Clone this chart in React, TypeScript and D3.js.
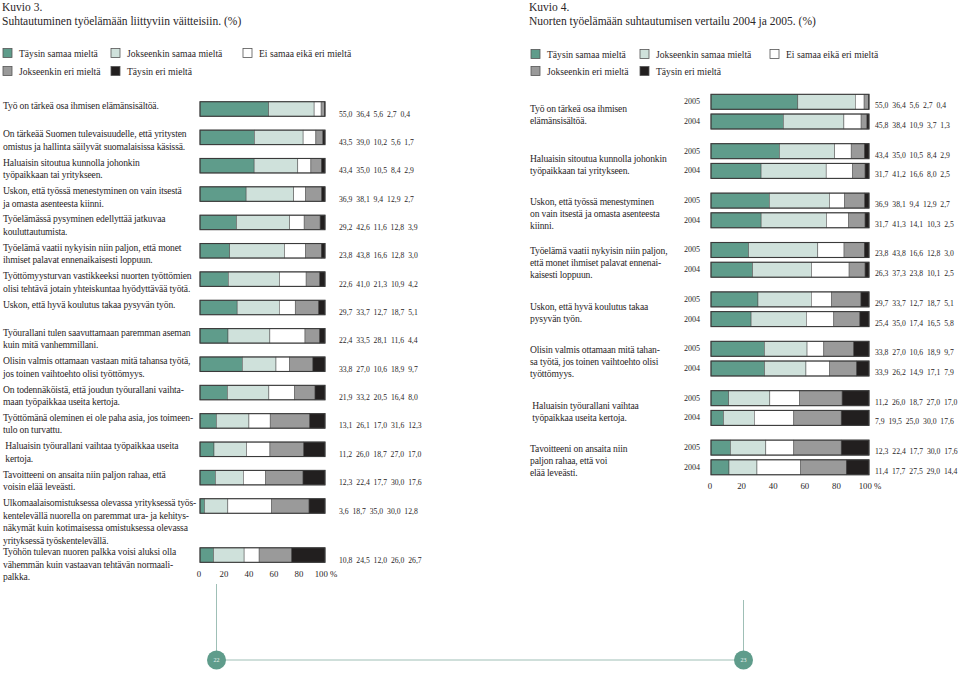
import React from "react";
import * as d3 from "d3";

// ---------- DATA ----------
const categories = [
  "Täysin samaa mieltä",
  "Jokseenkin samaa mieltä",
  "Ei samaa eikä eri mieltä",
  "Jokseenkin eri mieltä",
  "Täysin eri mieltä",
];

const leftStatements: string[][] = [
  ["Työ on tärkeä osa ihmisen elämänsisältöä."],
  ["On tärkeää Suomen tulevaisuudelle, että yritysten", "omistus ja hallinta säilyvät suomalaisissa käsissä."],
  ["Haluaisin sitoutua kunnolla johonkin", "työpaikkaan tai yritykseen."],
  ["Uskon, että työssä menestyminen on vain itsestä", "ja omasta asenteesta kiinni."],
  ["Työelämässä pysyminen edellyttää jatkuvaa", "kouluttautumista."],
  ["Työelämä vaatii nykyisin niin paljon, että monet", "ihmiset palavat ennenaikaisesti loppuun."],
  ["Työttömyysturvan vastikkeeksi nuorten työttömien", "olisi tehtävä jotain yhteiskuntaa hyödyttävää työtä."],
  ["Uskon, että hyvä koulutus takaa pysyvän työn."],
  ["Työurallani tulen saavuttamaan paremman aseman", "kuin mitä vanhemmillani."],
  ["Olisin valmis ottamaan vastaan mitä tahansa työtä,", "jos toinen vaihtoehto olisi työttömyys."],
  ["On todennäköistä, että joudun työurallani vaihta-", "maan työpaikkaa useita kertoja."],
  ["Työttömänä oleminen ei ole paha asia, jos toimeen-", "tulo on turvattu."],
  [" Haluaisin työurallani vaihtaa työpaikkaa useita", " kertoja."],
  ["Tavoitteeni on ansaita niin paljon rahaa, että", "voisin elää leveästi."],
  ["Ulkomaalaisomistuksessa olevassa yrityksessä työs-", "kentelevällä nuorella on paremmat ura- ja kehitys-", "näkymät kuin kotimaisessa omistuksessa olevassa", "yrityksessä työskentelevällä."],
  ["Työhön tulevan nuoren palkka voisi aluksi olla", "vähemmän kuin vastaavan tehtävän normaali-", "palkka."],
];

const leftValues: number[][] = [
  [55.0, 36.4, 5.6, 2.7, 0.4],
  [43.5, 39.0, 10.2, 5.6, 1.7],
  [43.4, 35.0, 10.5, 8.4, 2.9],
  [36.9, 38.1, 9.4, 12.9, 2.7],
  [29.2, 42.6, 11.6, 12.8, 3.9],
  [23.8, 43.8, 16.6, 12.8, 3.0],
  [22.6, 41.0, 21.3, 10.9, 4.2],
  [29.7, 33.7, 12.7, 18.7, 5.1],
  [22.4, 33.5, 28.1, 11.6, 4.4],
  [33.8, 27.0, 10.6, 18.9, 9.7],
  [21.9, 33.2, 20.5, 16.4, 8.0],
  [13.1, 26.1, 17.0, 31.6, 12.3],
  [11.2, 26.0, 18.7, 27.0, 17.0],
  [12.3, 22.4, 17.7, 30.0, 17.6],
  [3.6, 18.7, 35.0, 30.0, 12.8],
  [10.8, 24.5, 12.0, 26.0, 26.7],
];

const rightStatements: string[][] = [
  ["Työ on tärkeä osa ihmisen", "elämänsisältöä."],
  ["Haluaisin sitoutua kunnolla johonkin", "työpaikkaan tai yritykseen."],
  ["Uskon, että työssä menestyminen", "on vain itsestä ja omasta asenteesta", "kiinni."],
  ["Työelämä vaatii nykyisin niin paljon,", "että monet ihmiset palavat ennenai-", "kaisesti loppuun."],
  ["Uskon, että hyvä koulutus takaa", "pysyvän työn."],
  ["Olisin valmis ottamaan mitä tahan-", "sa työtä, jos toinen vaihtoehto olisi", "työttömyys."],
  [" Haluaisin työurallani vaihtaa", " työpaikkaa useita kertoja."],
  ["Tavoitteeni on ansaita niin", "paljon rahaa, että voi", "elää leveästi."],
];

const years = ["2005", "2004"];

const rightValues2005: number[][] = [
  [55.0, 36.4, 5.6, 2.7, 0.4],
  [43.4, 35.0, 10.5, 8.4, 2.9],
  [36.9, 38.1, 9.4, 12.9, 2.7],
  [23.8, 43.8, 16.6, 12.8, 3.0],
  [29.7, 33.7, 12.7, 18.7, 5.1],
  [33.8, 27.0, 10.6, 18.9, 9.7],
  [11.2, 26.0, 18.7, 27.0, 17.0],
  [12.3, 22.4, 17.7, 30.0, 17.6],
];

const rightValues2004: number[][] = [
  [45.8, 38.4, 10.9, 3.7, 1.3],
  [31.7, 41.2, 16.6, 8.0, 2.5],
  [31.7, 41.3, 14.1, 10.3, 2.5],
  [26.3, 37.3, 23.8, 10.1, 2.5],
  [25.4, 35.0, 17.4, 16.5, 5.8],
  [33.9, 26.2, 14.9, 17.1, 7.9],
  [7.9, 19.5, 25.0, 30.0, 17.6],
  [11.4, 17.7, 27.5, 29.0, 14.4],
];

const tickValues = [0, 20, 40, 60, 80, 100];
const pageNumbers = ["22", "23"];

// ---------- STYLE ----------
const colors = ["#5f9c8b", "#cfe1db", "#ffffff", "#9a9a9a", "#221f1f"];
const FONT = "Liberation Serif, Times New Roman, serif";
const TEXT = "#2a2627";
const LABEL_SIZE = 9.6;
const LABEL_LS = -0.15;
const VALUE_SIZE = 7.7;
const fmt = (v: number) => v.toFixed(1).replace(".", ",");

function segments(vals: number[]) {
  const total = d3.sum(vals);
  let acc = 0;
  return vals.map((v, i) => {
    const s = { start: (acc / total) * 100, end: ((acc + v) / total) * 100, i };
    acc += v;
    return s;
  });
}

function Bar({ x, y, h, vals }: { x: d3.ScaleLinear<number, number>; y: number; h: number; vals: number[] }) {
  return (
    <g>
      {segments(vals).map((s) => (
        <rect
          key={s.i}
          x={x(s.start)}
          y={y}
          width={Math.max(0, x(s.end) - x(s.start))}
          height={h}
          fill={colors[s.i]}
          stroke="#4a4a4a"
          strokeWidth={0.5}
        />
      ))}
      <rect x={x(0)} y={y} width={x(100) - x(0)} height={h} fill="none" stroke="#3a3a3a" strokeWidth={1.1} />
    </g>
  );
}

function Legend({ x0, xs, y0, dy }: { x0: number; xs: number[]; y0: number; dy: number }) {
  const pos = [
    [0, 0],
    [1, 0],
    [2, 0],
    [0, 1],
    [1, 1],
  ];
  return (
    <g>
      {categories.map((c, i) => {
        const sx = x0 + xs[pos[i][0]];
        const sy = y0 + pos[i][1] * dy;
        return (
          <g key={c}>
            <rect x={sx} y={sy - 4.5} width={9} height={9} fill={colors[i]} stroke="#555" strokeWidth={0.8} />
            <text x={sx + 16} y={sy} dominantBaseline="central" fontSize={9.6} fill={TEXT}>
              {c}
            </text>
          </g>
        );
      })}
    </g>
  );
}

function Axis({ x, y }: { x: d3.ScaleLinear<number, number>; y: number }) {
  return (
    <g>
      {tickValues.map((t) => (
        <text
          key={t}
          x={t === 100 ? x(t) + 1 : x(t) - 1}
          y={y}
          textAnchor="middle"
          dominantBaseline="central"
          fontSize={8.8}
          fill={TEXT}
        >
          {t === 100 ? "100 %" : String(t)}
        </text>
      ))}
    </g>
  );
}

export default function App() {
  // ----- left chart -----
  const xL = d3.scaleLinear().domain([0, 100]).range([200, 325]);
  const weights = leftStatements.map((l) => 1 + Math.max(0, l.length - 2) * 0.365);
  const cum = weights.map((_, i) => d3.sum(weights.slice(0, i)));
  const yL = d3.scaleLinear().domain([0, 14]).range([109, 506]);
  const hL = 14.5;

  // ----- right chart -----
  const xR = d3.scaleLinear().domain([0, 100]).range([711, 869]);
  const groups = d3.scaleBand<number>().domain(d3.range(rightStatements.length)).range([94.3, 474.8]).paddingInner(0.2976);
  const inner = d3.scaleBand<string>().domain(years).range([0, groups.bandwidth()]).paddingInner(0.24);
  const hR = inner.bandwidth();
  const rightVals = [rightValues2005, rightValues2004];

  return (
    <svg
      width={960}
      height={674}
      style={{ position: "absolute", left: 0, top: 0, display: "block", background: "#fff", fontFamily: FONT }}
    >
      {/* Titles */}
      <text x={2} y={7} dominantBaseline="central" fontSize={11.5} fill={TEXT}>Kuvio 3.</text>
      <text x={2} y={21} dominantBaseline="central" fontSize={11.5} fill={TEXT}>Suhtautuminen työelämään liittyviin väitteisiin. (%)</text>
      <text x={529} y={7} dominantBaseline="central" fontSize={11.5} fill={TEXT}>Kuvio 4.</text>
      <text x={529} y={21} dominantBaseline="central" fontSize={11.5} fill={TEXT}>Nuorten työelämään suhtautumisen vertailu 2004 ja 2005. (%)</text>

      <Legend x0={3} xs={[0, 108, 240]} y0={53} dy={18} />
      <Legend x0={531} xs={[0, 109, 239]} y0={54} dy={17} />

      {/* Left chart */}
      {leftStatements.map((lines, i) => {
        const cy = yL(cum[i]);
        return (
          <g key={"L" + i}>
            {lines.map((ln, j) => (
              <text
                key={j}
                x={3}
                y={cy - 3.5 + j * 12.5}
                dominantBaseline="central"
                fontSize={LABEL_SIZE}
                letterSpacing={LABEL_LS}
                fill={TEXT}
                style={{ whiteSpace: "pre" }}
              >
                {ln}
              </text>
            ))}
            <Bar x={xL} y={cy - hL / 2} h={hL} vals={leftValues[i]} />
            <text x={339} y={cy + 5} dominantBaseline="central" fontSize={VALUE_SIZE} fill={TEXT} style={{ whiteSpace: "pre" }}>
              {leftValues[i].map(fmt).join("  ")}
            </text>
          </g>
        );
      })}
      <Axis x={xL} y={574} />

      {/* Right chart */}
      {rightStatements.map((lines, i) => {
        const g0 = groups(i)!;
        const center = g0 + groups.bandwidth() / 2 + 3;
        const top = center - ((lines.length - 1) * 12) / 2;
        return (
          <g key={"R" + i}>
            {lines.map((ln, j) => (
              <text
                key={j}
                x={530}
                y={top + j * 12}
                dominantBaseline="central"
                fontSize={LABEL_SIZE}
                letterSpacing={LABEL_LS}
                fill={TEXT}
                style={{ whiteSpace: "pre" }}
              >
                {ln}
              </text>
            ))}
            {years.map((yr, k) => {
              const by = g0 + inner(yr)!;
              const vals = rightVals[k][i];
              return (
                <g key={yr}>
                  <text x={692} y={by + hR / 2} textAnchor="middle" dominantBaseline="central" fontSize={8} fill={TEXT}>
                    {yr}
                  </text>
                  <Bar x={xR} y={by} h={hR} vals={vals} />
                  <text x={875} y={by + hR / 2 + 4} dominantBaseline="central" fontSize={VALUE_SIZE} fill={TEXT} style={{ whiteSpace: "pre" }}>
                    {vals.map(fmt).join("  ")}
                  </text>
                </g>
              );
            })}
          </g>
        );
      })}
      <Axis x={xR} y={486} />

      {/* Page numbers */}
      <line x1={216.5} y1={584} x2={216.5} y2={651} stroke="#9fbfb6" strokeWidth={1} />
      <line x1={743.5} y1={600} x2={743.5} y2={651} stroke="#9fbfb6" strokeWidth={1} />
      <line x1={216.5} y1={660} x2={743.5} y2={660} stroke="#9fbfb6" strokeWidth={1} />
      {pageNumbers.map((p, i) => {
        const cx = i === 0 ? 216.5 : 743.5;
        return (
          <g key={p}>
            <circle cx={cx} cy={660} r={9.5} fill="#5f9c8b" />
            <text x={cx} y={660} textAnchor="middle" dominantBaseline="central" fontSize={6} fill="#e8f2ef">
              {p}
            </text>
          </g>
        );
      })}
    </svg>
  );
}
